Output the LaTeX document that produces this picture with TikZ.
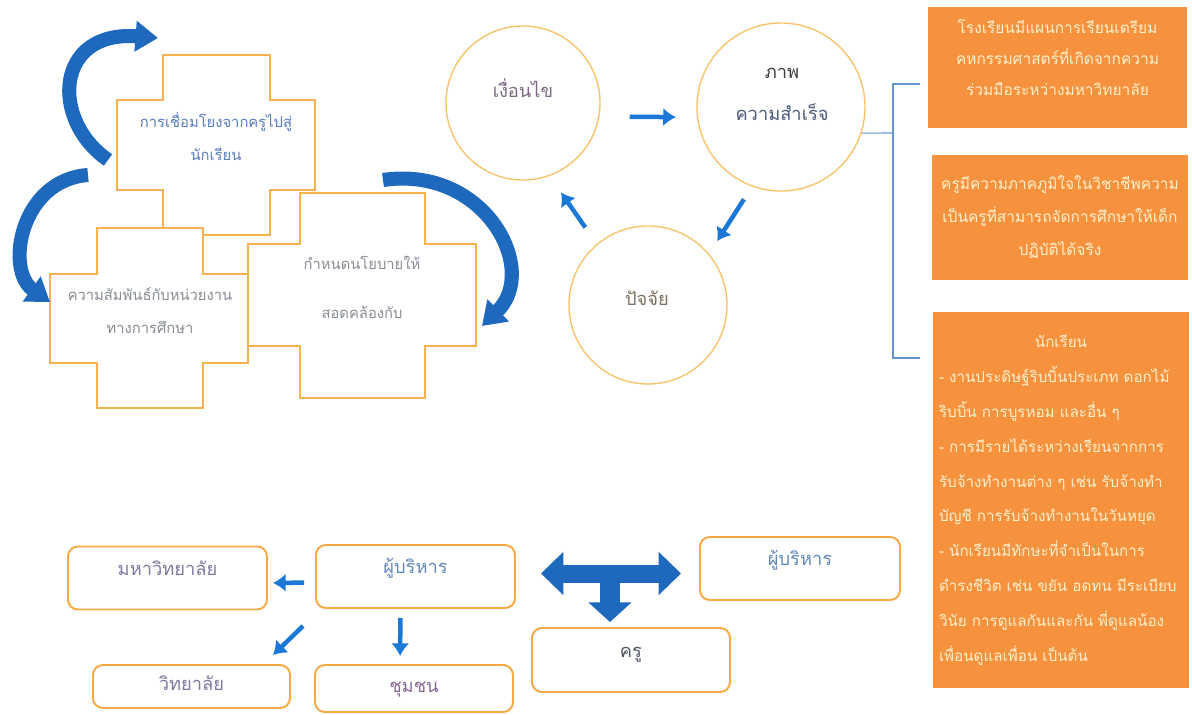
\documentclass[tikz,border=0pt]{standalone}
\usepackage{fontspec}
\newfontfamily\thaifont[Script=Thai]{Loma}
\usetikzlibrary{arrows.meta,calc}

\definecolor{crossline}{RGB}{246,178,80}
\definecolor{ringline}{RGB}{247,196,110}
\definecolor{boxline}{RGB}{246,170,70}
\definecolor{orangefill}{RGB}{246,146,62}
\definecolor{paletext}{RGB}{255,240,205}
\definecolor{bigblue}{RGB}{30,105,190}
\definecolor{arrowblue}{RGB}{28,120,215}
\definecolor{bracketblue}{RGB}{100,150,205}
\definecolor{steeltext}{RGB}{88,124,190}
\definecolor{greytext}{RGB}{135,140,150}
\definecolor{mauvetext}{RGB}{125,105,130}
\definecolor{darktext}{RGB}{60,60,65}
\definecolor{slatetext}{RGB}{75,90,120}
\definecolor{browntext}{RGB}{125,112,95}
\definecolor{unitext}{RGB}{125,120,160}
\definecolor{bosstext}{RGB}{100,135,185}
\definecolor{commtext}{RGB}{135,105,150}
\definecolor{teachtext}{RGB}{80,85,100}

% one pixel of the 1192x715 layout
\newcommand{\pxu}{0.025cm}
% plus shaped box: vertical bar x1 x2 y1 y2, horizontal bar X1 X2 Y1 Y2
\newcommand{\plusbox}[8]{%
  \filldraw[crossbox] (#1,#3) -- (#2,#3) -- (#2,#7) -- (#6,#7) -- (#6,#8) -- (#2,#8)
    -- (#2,#4) -- (#1,#4) -- (#1,#8) -- (#5,#8) -- (#5,#7) -- (#1,#7) -- cycle;}

\tikzset{
  crossbox/.style={draw=crossline, fill=white, line width=1.4pt},
  crosstext/.style={font=\thaifont\fontsize{10.5}{23.4}\selectfont, align=center, inner sep=0pt},
  ring/.style={circle, draw=ringline, line width=1pt, fill=white, inner sep=0pt},
  ringtext/.style={font=\thaifont\fontsize{13}{29.8}\selectfont, align=center, inner sep=0pt},
  infobox/.style={rectangle, fill=orangefill, text=paletext, inner sep=0pt,
    font=\thaifont\fontsize{11}{22.3}\selectfont, align=center},
  rolebox/.style={rectangle, rounded corners=7pt, draw=boxline, line width=1.4pt, fill=white,
    minimum width=199*\pxu, minimum height=63*\pxu, inner sep=0pt,
    font=\thaifont\fontsize{13}{16}\selectfont, text height=10pt, text depth=4pt},
  raised/.style={text depth=14pt},
  bigcurve/.style={bigblue, line width=10pt, -{Triangle[width=21pt,length=16pt]}},
  flowarrow/.style={arrowblue, line width=3.2pt, -{Latex[width=13pt,length=9pt]}},
  blockarrow/.style={bigblue, line width=12.8pt},
  bracket/.style={bracketblue, line width=0.8pt}
}

\begin{document}
\begin{tikzpicture}[x=\pxu, y=-\pxu]
  \useasboundingbox (0,0) rectangle (1192,715);

  % crosses on the left
  \plusbox{163}{270}{55}{235}{117}{315}{100}{190}
  \plusbox{97}{203}{228}{408}{50}{248}{274}{363}
  \plusbox{300}{425}{193}{398}{248}{476}{244}{346}
  \node[crosstext, text=steeltext] (link) at (216,136) {การเชื่อมโยงจากครูไปสู่\\นักเรียน};
  \node[crosstext, text=greytext] (relation) at (150,311) {ความสัมพันธ์กับหน่วยงาน\\ทางการศึกษา};
  \node[crosstext, text=greytext, font=\thaifont\fontsize{10.5}{34.7}\selectfont] (policy) at (362,287) {กำหนดนโยบายให้\\สอดคล้องกับ};

  % curved arrows round the crosses
  \coordinate (loopAtail) at (108,160);
  \coordinate (loopAtip) at (158,38);
  \coordinate (loopBtail) at (88,175);
  \coordinate (loopBtip) at (50,302);
  \coordinate (loopCtail) at (383,180);
  \coordinate (loopCtip) at (482,326);
  \draw[bigcurve] (loopAtail) .. controls (50,120) and (55,30) .. (loopAtip);
  \draw[bigcurve] (loopBtail) .. controls (20,180) and (5,270) .. (loopBtip);
  \draw[bigcurve] (loopCtail) .. controls (485,165) and (540,270) .. (loopCtip);

  % cycle of circles
  \node[ring, minimum size=3.85cm] (c1) at (523,103) {};
  \node[ring, minimum size=4.2cm] (c2) at (781,107) {};
  \node[ring, minimum size=3.95cm] (c3) at (648,305) {};
  \node[ringtext, text=mauvetext] (c1text) at (523,88) {เงื่อนไข};
  \node[ringtext] (c2text) at (782,94) {\textcolor{darktext}{ภาพ}\\\textcolor{slatetext}{ความสำเร็จ}};
  \node[ringtext, text=browntext] (c3text) at (647,298) {ปัจจัย};
  \draw[flowarrow, shorten <=30*\pxu, shorten >=21*\pxu] (c1.-10) -- (c2.187);
  \draw[flowarrow, shorten <=15*\pxu, shorten >=15*\pxu] (c2.250) -- (c3.40);
  \draw[flowarrow, shorten <=20*\pxu, shorten >=20*\pxu] (c3.130) -- (c1.290);

  % bracket to the outcome boxes
  \coordinate (braceM) at (893,133);
  \coordinate (braceT) at (920,84);
  \coordinate (braceB) at (920,358);
  \draw[bracket] (c2.-18) -- (braceM);
  \draw[bracket] (braceT) -- (braceT -| braceM) -- (braceB -| braceM) -- (braceB);

  % outcome boxes
  \node[infobox, raised, minimum width=259*\pxu, minimum height=121*\pxu] (school) at (1057.5,67.5)
    {โรงเรียนมีแผนการเรียนเตรียม\\คหกรรมศาสตร์ที่เกิดจากความ\\ร่วมมือระหว่างมหาวิทยาลัย};
  \node[infobox, minimum width=256*\pxu, minimum height=125*\pxu,
    font=\thaifont\fontsize{11}{23.4}\selectfont] (teachers) at (1060,217.5)
    {ครูมีความภาคภูมิใจในวิชาชีพความ\\เป็นครูที่สามารถจัดการศึกษาให้เด็ก\\ปฏิบัติได้จริง};
  \node[infobox, minimum width=256*\pxu, minimum height=376*\pxu, text width=244*\pxu,
    inner xsep=6*\pxu, align=left, font=\thaifont\fontsize{10.8}{24.8}\selectfont] (students) at (1061,500)
    {\hfill นักเรียน\hfill\mbox{}\\
     - งานประดิษฐ์ริบบิ้นประเภท ดอกไม้\\
     ริบบิ้น การบูรหอม และอื่น ๆ\\
     - การมีรายได้ระหว่างเรียนจากการ\\
     รับจ้างทำงานต่าง ๆ เช่น รับจ้างทำ\\
     บัญชี การรับจ้างทำงานในวันหยุด\\
     - นักเรียนมีทักษะที่จำเป็นในการ\\
     \mbox{ดำรงชีวิต เช่น ขยัน อดทน มีระเบียบ}\\
     วินัย การดูแลกันและกัน พี่ดูแลน้อง\\
     เพื่อนดูแลเพื่อน เป็นต้น};

  % network at the bottom
  \node[rolebox, raised, text=unitext] (uni) at (167.5,578) {มหาวิทยาลัย};
  \node[rolebox, raised, text=bosstext] (boss1) at (415.5,576.5) {ผู้บริหาร};
  \node[rolebox, text=unitext, minimum width=197*\pxu, minimum height=43*\pxu] (college) at (191.5,686.5) {วิทยาลัย};
  \node[rolebox, text=commtext, minimum width=198*\pxu, minimum height=47*\pxu] (community) at (414,688.5) {ชุมชน};
  \node[rolebox, raised, text=bosstext, minimum width=200*\pxu] (boss2) at (800,568.5) {ผู้บริหาร};
  \node[rolebox, raised, text=teachtext, minimum width=198*\pxu, minimum height=64*\pxu] (teacher) at (631,660) {ครู};

  \draw[flowarrow, shorten <=11*\pxu, shorten >=5*\pxu] ([shift={(0,6)}]boss1.west) -- ([shift={(0,5)}]uni.east);
  \draw[flowarrow] ([shift={(-12,17)}]boss1.south west) -- ([shift={(-18,-9)}]college.north east);
  \draw[flowarrow, shorten <=9*\pxu, shorten >=8*\pxu] ([shift={(-15,0)}]boss1.south) -- ([shift={(-14,0)}]community.north);

  % block arrow between the administrators and the teacher
  \coordinate (tipL) at ([shift={(25,-3)}]boss1.east);
  \coordinate (tipR) at ([shift={(-18,5)}]boss2.west);
  \coordinate (tipD) at ([shift={(-21,-5)}]teacher.north);
  \coordinate (hub) at (tipD |- tipL);
  \draw[blockarrow, line width=14pt, -{Triangle[width=30pt,length=14pt]}] (hub) -- (tipD);
  \draw[blockarrow, {Triangle[width=30pt,length=16pt]}-{Triangle[width=30pt,length=16pt]}] (tipL) -- (tipR);
\end{tikzpicture}
\end{document}
